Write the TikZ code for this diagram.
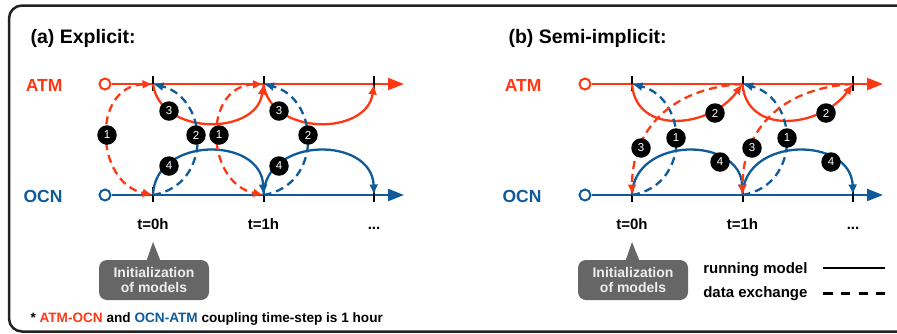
\documentclass[tikz,border=0pt]{standalone}
\usepackage{fontspec}
\setmainfont{Liberation Sans}
\usetikzlibrary{arrows.meta,calc}
\definecolor{atm}{HTML}{FF3814}
\definecolor{ocn}{HTML}{0E5A9B}
\definecolor{callgray}{HTML}{666666}
\definecolor{framec}{HTML}{222222}
\tikzset{
  axisatm/.style={atm, line width=2.2pt, -{Triangle[length=16pt,width=12pt]}},
  axisocn/.style={ocn, line width=2.2pt, -{Triangle[length=16pt,width=12pt]}},
  startc/.style={circle, fill=white, line width=2pt, minimum size=11pt, inner sep=0pt},
  tickmark/.style={black, line width=2pt},
  runatm/.style={atm, line width=2.3pt, ->},
  runocn/.style={ocn, line width=2.3pt, ->},
  xchg/.style={line width=2.3pt, dash pattern=on 8pt off 5pt},
  num/.style={circle, fill=black, text=white, minimum size=19.5pt, inner sep=0pt, font=\fontsize{11.5}{11.5}\selectfont},
  modlabel/.style={font=\fontsize{17.5}{18}\selectfont\bfseries},
  titletext/.style={anchor=base west, font=\fontsize{19.5}{22}\selectfont\bfseries},
  timetext/.style={anchor=base, font=\fontsize{15}{16}\selectfont\bfseries},
  callout/.style={fill=callgray, rounded corners=8pt, minimum width=110pt, minimum height=40pt,
    text=white!93!black, align=center, inner sep=0pt, font=\fontsize{14}{15.5}\selectfont\bfseries},
  legtext/.style={anchor=base east, font=\fontsize{15}{16}\selectfont\bfseries},
}
\begin{document}
\begin{tikzpicture}[x=1pt,y=-1pt, font=\bfseries, >={Latex[length=10.5pt,width=9pt]}]
\useasboundingbox (0,0) rectangle (897,333);
\clip (0,0) rectangle (897,333);
\fill[white] (0,0) rectangle (897,333);
% frame
\draw[line width=2.5pt, framec, rounded corners=13pt] (9,5.5) rectangle (915,331.5);

% titles
\node[titletext] (ta) at (27,43) {(a) Explicit:};
\node[titletext] (tb) at (505,43) {(b) Semi-implicit:};

% model labels
\node[modlabel, anchor=base east, text=atm] (laA) at (66,91) {ATM};
\node[modlabel, anchor=base east, text=ocn] (laO) at (66,202) {OCN};
\node[modlabel, anchor=base east, text=atm] (lbA) at (545,91) {ATM};
\node[modlabel, anchor=base east, text=ocn] (lbO) at (545,202) {OCN};

% coordinates panel a
\coordinate (aA0) at (153,84);   \coordinate (aA1) at (263.5,84);  \coordinate (aA2) at (374,84);
\coordinate (aO0) at (153,195);  \coordinate (aO1) at (263.5,195); \coordinate (aO2) at (374,195);
\coordinate (aAe) at (404,84);   \coordinate (aOe) at (404,195);
% coordinates panel b
\coordinate (bA0) at (632,84);   \coordinate (bA1) at (742.5,84);  \coordinate (bA2) at (853,84);
\coordinate (bO0) at (632,195);  \coordinate (bO1) at (742.5,195); \coordinate (bO2) at (853,195);
\coordinate (bAe) at (883,84);   \coordinate (bOe) at (883,195);

% start circles
\node[startc, draw=atm] (aAc) at (105,84) {};
\node[startc, draw=ocn] (aOc) at (105,195) {};
\node[startc, draw=atm] (bAc) at (585,84) {};
\node[startc, draw=ocn] (bOc) at (585,195) {};

% axes
\draw[axisatm] (aAc) -- (aAe);
\draw[axisocn] (aOc) -- (aOe);
\draw[axisatm] (bAc) -- (bAe);
\draw[axisocn] (bOc) -- (bOe);

% ticks
\foreach \p in {aA0,aA1,aA2,aO0,aO1,aO2,bA0,bA1,bA2,bO0,bO1,bO2}
  \draw[tickmark] ($(\p)+(0,-8)$) -- ($(\p)+(0,7)$);

% panel a arcs
\foreach \i/\j in {0/1,1/2} {
  \draw[runatm] (aA\i) .. controls +(7,52) and +(-7,52) .. (aA\j);
  \draw[runocn] (aO\i) .. controls +(2,-59) and +(-2,-59) .. (aO\j);
}
\foreach \i in {0,1} {
  \draw[xchg, atm, <->] (aA\i) .. controls +(-62,2) and +(-58,-12) .. (aO\i);
  \draw[xchg, ocn, ->] (aO\i) .. controls +(60,-10) and +(56,14) .. (aA\i);
}

% panel b arcs
\foreach \i/\j in {0/1,1/2} {
  \draw[runatm] (bA\i) .. controls +(4,52) and +(-32,44) .. (bA\j);
  \draw[runocn] (bO\i) .. controls +(2,-59) and +(-2,-59) .. (bO\j);
  \draw[xchg, ocn, ->] (bO\i) .. controls +(60,-10) and +(56,14) .. (bA\i);
  \draw[xchg, atm, ->] (bA\j) .. controls +(-72,4) and +(0,-65) .. (bO\i);
}

% step markers panel a
\node[num] (a3x) at (169,111) {3};
\node[num] (a3y) at (279,111) {3};
\node[num] (a4x) at (169,166) {4};
\node[num] (a4y) at (279,166) {4};
\node[num] (a1x) at (107,135) {1};
\node[num] (a1y) at (219,135) {1};
\node[num] (a2x) at (196,135) {2};
\node[num] (a2y) at (308,135) {2};
% step markers panel b
\node[num] (b2x) at (715,113) {2};
\node[num] (b2y) at (826,113) {2};
\node[num] (b1x) at (676,138) {1};
\node[num] (b1y) at (787,138) {1};
\node[num] (b3x) at (641,148) {3};
\node[num] (b3y) at (752,148) {3};
\node[num] (b4x) at (720,162) {4};
\node[num] (b4y) at (831,162) {4};

% time labels
\node[timetext] (at0) at (153,229) {t=0h};
\node[timetext] (at1) at (263.5,229) {t=1h};
\node[timetext] (at2) at (374,229) {...};
\node[timetext] (bt0) at (632,229) {t=0h};
\node[timetext] (bt1) at (742.5,229) {t=1h};
\node[timetext] (bt2) at (853,229) {...};

% callouts
\node[callout] (ca) at (154,280) {Initialization\\of models};
\coordinate (caApex) at (153,242);
\fill[callgray] ($(ca.north)+(-7.5,1)$) -- (caApex) -- ($(ca.north)+(6.5,1)$) -- cycle;
\node[callout] (cb) at (633,280) {Initialization\\of models};
\coordinate (cbApex) at (632,242);
\fill[callgray] ($(cb.north)+(-7.5,1)$) -- (cbApex) -- ($(cb.north)+(6.5,1)$) -- cycle;

% legend
\node[legtext] (lrun) at (811,273) {running model};
\node[legtext] (lxch) at (811,297.5) {data exchange};
\coordinate (lr1) at (823,268); \coordinate (lr2) at (885,268);
\coordinate (lx1) at (823,293.5); \coordinate (lx2) at (885,293.5);
\draw[line width=2.5pt] (lr1) -- (lr2);
\draw[line width=2.5pt, dash pattern=on 9.5pt off 8.3pt] (lx1) -- (lx2);

% footnote
\node[anchor=base west, font=\fontsize{13.6}{15}\selectfont\bfseries] (foot) at (27,322)
  {* \textcolor{atm}{ATM-OCN} and \textcolor{ocn}{OCN-ATM} coupling time-step is 1 hour};
\end{tikzpicture}
\end{document}
